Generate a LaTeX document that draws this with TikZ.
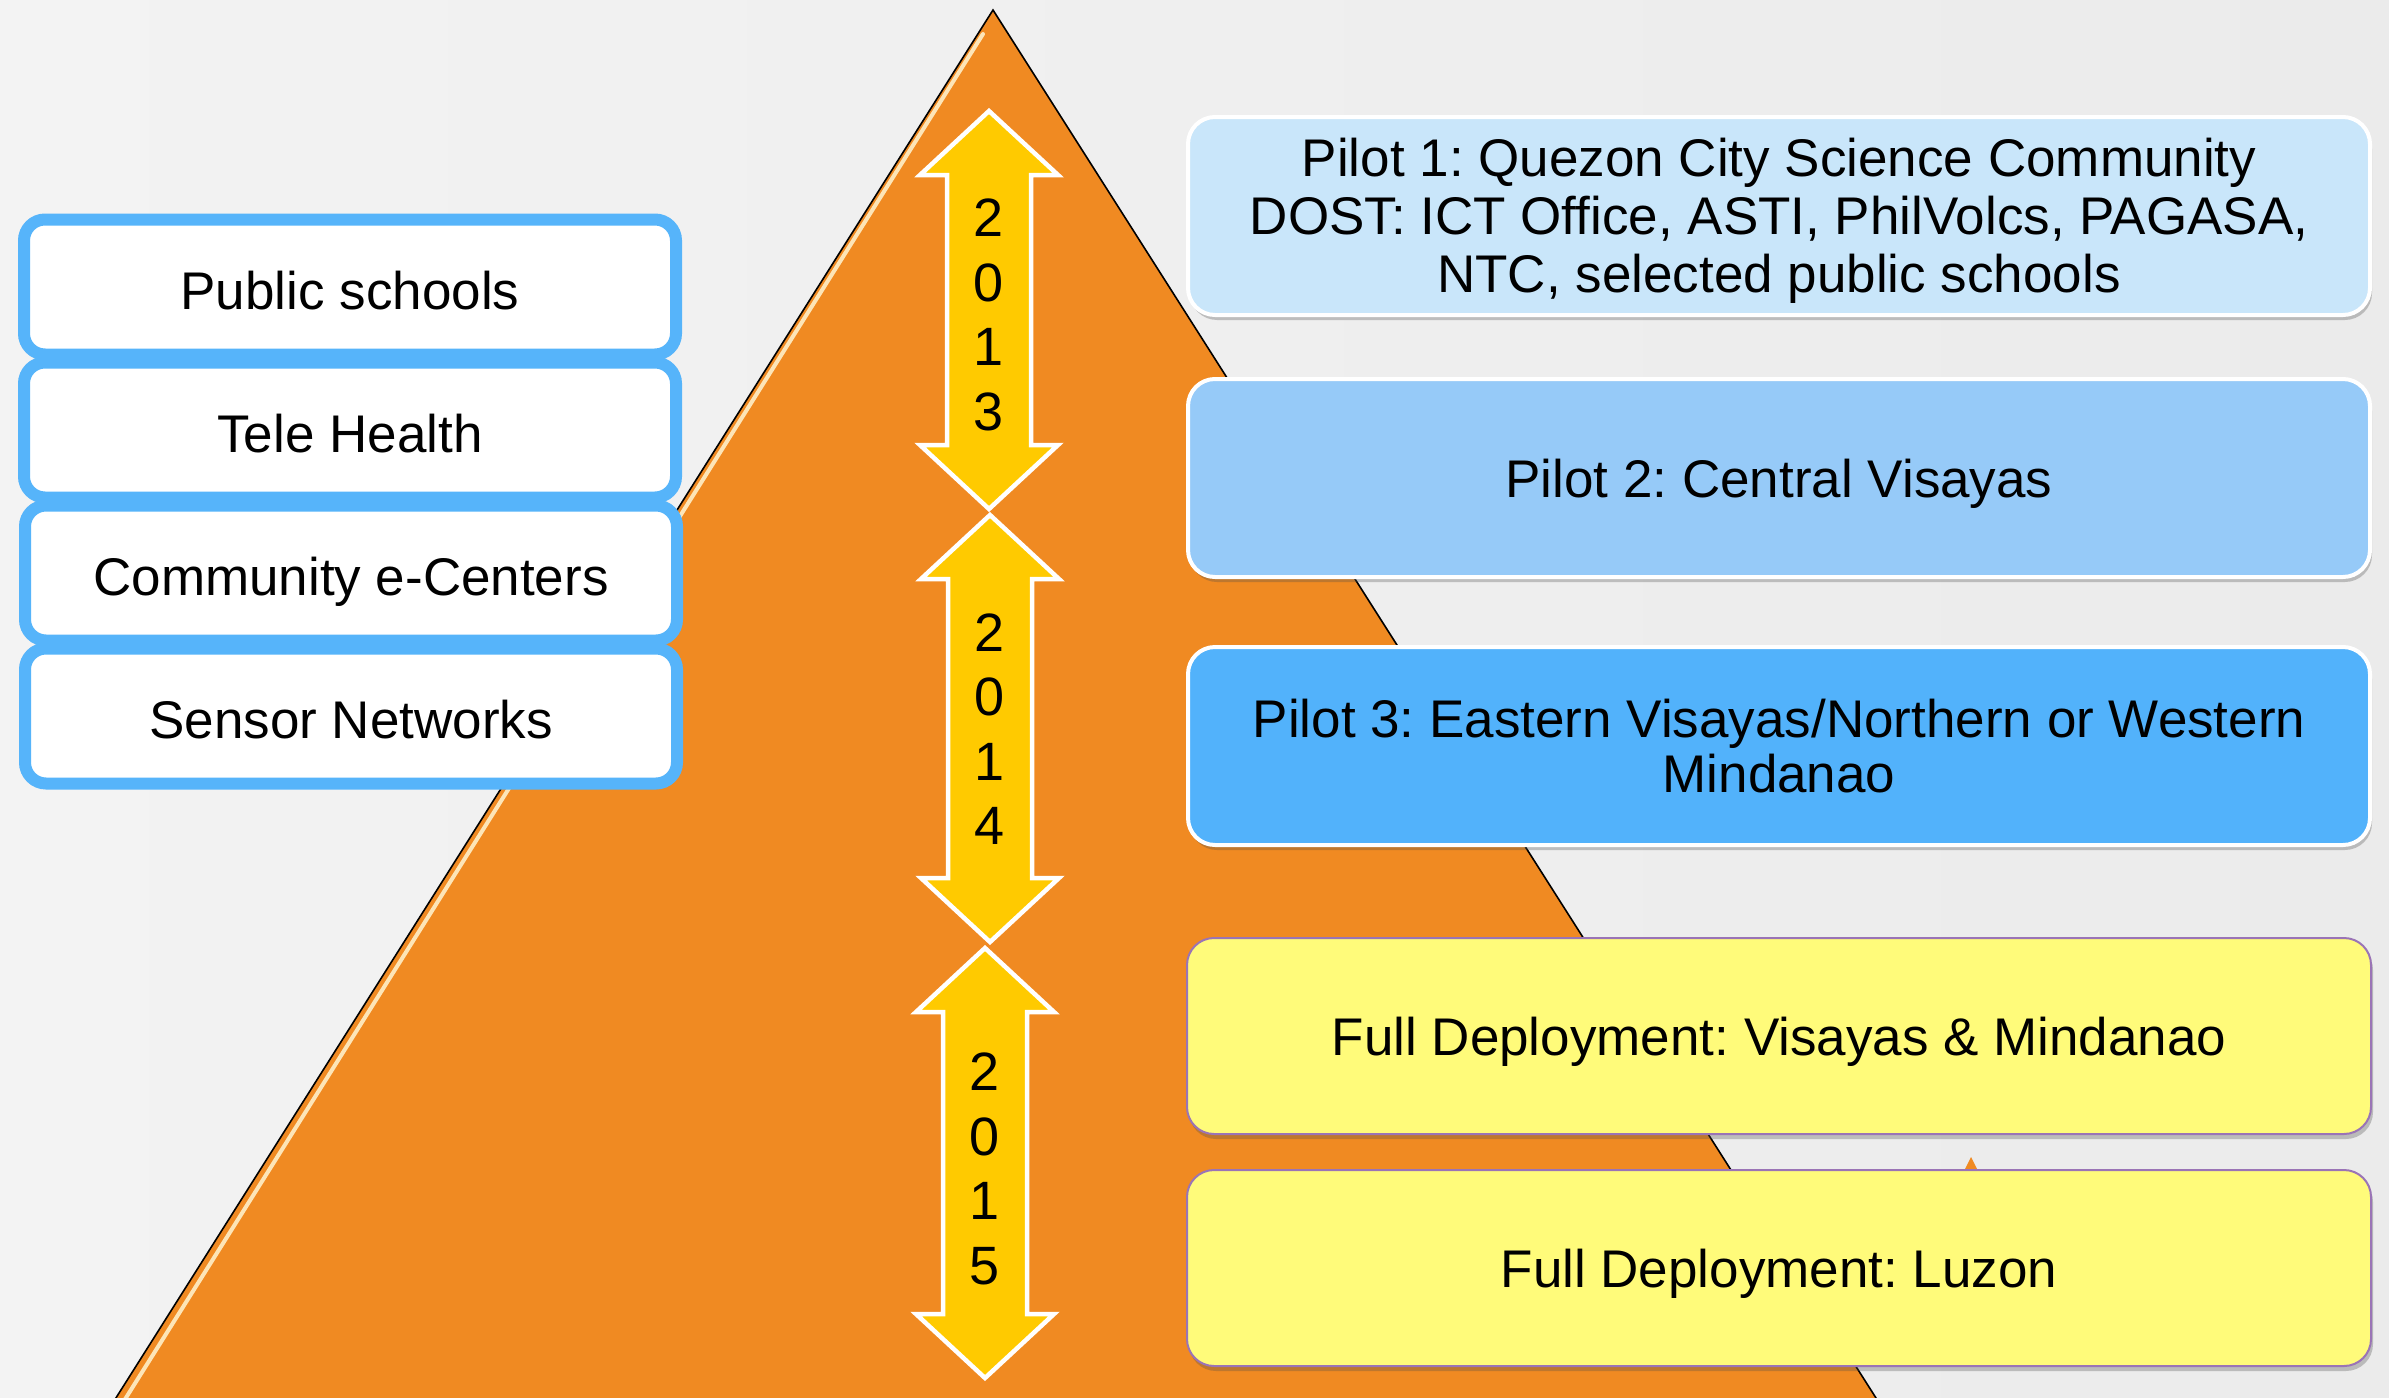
\documentclass[tikz,border=0pt]{standalone}
\usepackage{fontspec}
\setmainfont{Liberation Sans}
\usetikzlibrary{shadows}
\frenchspacing

\definecolor{bgleft}{HTML}{F3F3F3}
\definecolor{bgright}{HTML}{EBEBEB}
\definecolor{pyramid}{HTML}{F08A22}
\definecolor{shine}{HTML}{FFEFC8}
\definecolor{yearfill}{HTML}{FFCA00}
\definecolor{sideblue}{HTML}{56B4FA}
\definecolor{pilotA}{HTML}{C9E6FA}
\definecolor{pilotB}{HTML}{96CAF8}
\definecolor{pilotC}{HTML}{52B2FB}
\definecolor{deploy}{HTML}{FFFB7A}
\definecolor{deployedge}{HTML}{9A74B6}

\newcommand\bigtext{\fontsize{53}{58}\selectfont}

% double-headed year arrow:
% name, centre x, top tip y, bottom tip y, digit block centre y, digits
\newcommand\yeararrow[6]{%
  \draw[yeararrowstyle]
    (#2,#3) -- (#2+69,#3+64) -- (#2+42,#3+64) -- (#2+42,#4-64)
    -- (#2+69,#4-64) -- (#2,#4) -- (#2-69,#4-64) -- (#2-42,#4-64)
    -- (#2-42,#3+64) -- (#2-69,#3+64) -- cycle;
  \node[yeartext] (#1) at (#2,#5) {#6};
}

\tikzset{
  yeararrowstyle/.style={fill=yearfill, draw=white, line width=4.5, line join=miter},
  yeartext/.style={align=center, inner sep=0, font=\fontsize{54}{64.5}\selectfont},
  sidebox/.style={draw=sideblue, fill=white, line width=12, rounded corners=21,
    minimum width=652, minimum height=135, inner sep=0, font=\bigtext,
    text height=45pt, text depth=0pt},
  pilotbox/.style={draw=white, line width=4, rounded corners=27,
    minimum width=1182, minimum height=198, inner sep=0, align=center,
    font=\bigtext,
    drop shadow={shadow xshift=2, shadow yshift=5, opacity=0.3, fill=black!70}},
  oneline/.style={text height=40pt, text depth=2pt},
  deploybox/.style={pilotbox, oneline, fill=deploy, draw=deployedge, line width=2,
    minimum width=1184, minimum height=196},
}

\begin{document}
\begin{tikzpicture}[x=1pt, y=-1pt]
\useasboundingbox (0,0) rectangle (2389,1397);
\clip (0,0) rectangle (2389,1397);

% background
\shade[left color=bgleft, right color=bgright] (0,0) rectangle (2389,1397);

% pyramid
\fill[pyramid] (993,10) -- (1890,1420) -- (102,1420) -- cycle;
\draw[shine, line width=4, opacity=0.9, line cap=round] (983,34) -- (112,1420);
\draw[black, line width=1.6, line join=miter] (102,1420) -- (993,10) -- (1890,1420);

% year arrows
\yeararrow{y13}{989}{111}{509}{315}{2\\0\\1\\3}
\yeararrow{y14}{990}{515}{942}{729}{2\\0\\1\\4}
\yeararrow{y15}{985}{948}{1378}{1169}{2\\0\\1\\5}

% sectors on the left
\node[sidebox] (schools)   at (350,287) {Public schools};
\node[sidebox] (health)    at (350,430) {Tele Health};
\node[sidebox] (ecenters)  at (351,573) {Community e-Centers};
\node[sidebox] (sensors)   at (351,716) {Sensor Networks};

% small pyramid tip showing between the deployment boxes
\fill[pyramid] (1971,1157) -- (1978,1171) -- (1964,1171) -- cycle;

% rollout phases on the right
\node[pilotbox, fill=pilotA] (pilot1) at (1779,216)
  {\rule{0pt}{0.91em}Pilot 1: Quezon City Science Community\\
   DOST: ICT Office, ASTI, PhilVolcs, PAGASA,\\
   NTC, selected public schools};
\node[pilotbox, oneline, fill=pilotB] (pilot2) at (1779,478) {Pilot 2: Central Visayas};
\node[pilotbox, fill=pilotC] (pilot3) at (1779,746)
  {Pilot 3: Eastern Visayas/Northern or Western\\[-3pt] Mindanao};
\node[deploybox] (deployVM) at (1779,1036) {Full Deployment: Visayas \& Mindanao};
\node[deploybox] (deployL)  at (1779,1268) {Full Deployment: Luzon};
\end{tikzpicture}
\end{document}
